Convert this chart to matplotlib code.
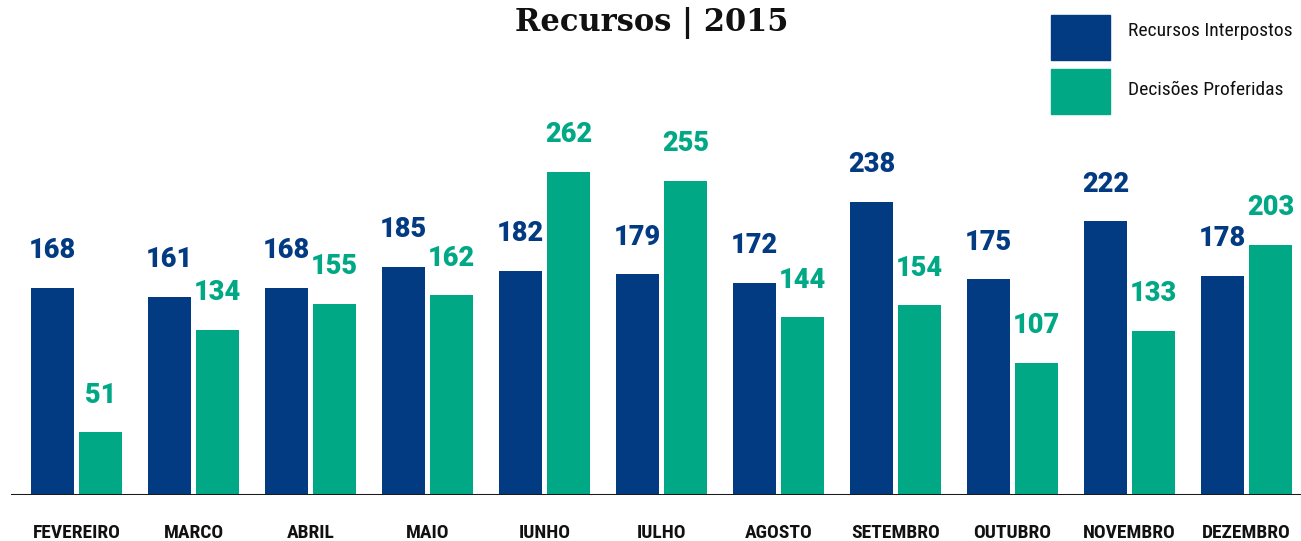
import numpy as np
import matplotlib
matplotlib.use('Agg')
import matplotlib.pyplot as plt
from matplotlib.patches import Rectangle
from matplotlib import font_manager

# monthly totals, 2015
meses = ["FEVEREIRO", "MARCO", "ABRIL", "MAIO", "IUNHO", "IULHO",
         "AGOSTO", "SETEMBRO", "OUTUBRO", "NOVEMBRO", "DEZEMBRO"]
interpostos = [168, 161, 168, 185, 182, 179, 172, 238, 175, 222, 178]
proferidas = [51, 134, 155, 162, 262, 255, 144, 154, 107, 133, 203]

azul = "#023b82"
verde = "#00a885"

names = {f.name for f in font_manager.fontManager.ttflist}
narrow = [n for n in ["Liberation Sans Narrow", "Roboto Condensed", "Open Sans Condensed",
                      "DejaVu Sans"] if n in names]

W, H = 1301, 541
fig = plt.figure(figsize=(W / 100, H / 100), dpi=100)

# axes spans from x=11px to the right edge, baseline 46px above the bottom
ax = fig.add_axes([11 / W, 46 / H, 1 - 11 / W, 1 - 46 / H])

x = np.arange(len(meses))
pitch = 117.0
bw = 43 / pitch
off = 24 / pitch

ax.bar(x - off, interpostos, width=bw, color=azul, zorder=2)
ax.bar(x + off, proferidas, width=bw, color=verde, zorder=2)

num_font = dict(family=["Roboto", "DejaVu Sans"], fontsize=19.5, fontweight="black")
for xi, v in zip(x, interpostos):
    ax.annotate(str(v), (xi - off, v), xytext=(0, 17), textcoords="offset points",
                ha="center", va="bottom", color=azul, **num_font)
for xi, v in zip(x, proferidas):
    ax.annotate(str(v), (xi + off, v), xytext=(0, 17), textcoords="offset points",
                ha="center", va="bottom", color=verde, **num_font)

ax.axhline(0, color="#1a1a1a", lw=2.2, zorder=3)

ax.set_xlim(-65.5 / pitch, (W - 76.5) / pitch)
ax.set_ylim(0, 495 / 323 * 262)
ax.set_xticks(x)
ax.set_xticklabels(meses, family=narrow, fontstretch="condensed",
                   fontsize=14, fontweight="bold", color="#111111")
ax.tick_params(axis="x", length=0, pad=21)
ax.set_yticks([])
for s in ax.spines.values():
    s.set_visible(False)

fig.text(652 / W, 1 - 23 / H, "Recursos | 2015", ha="center", va="center",
         family=["DejaVu Serif"], fontsize=22, fontweight="heavy", color="#111111")

# legend boxes
leg = [("Recursos Interpostos", azul, 15, 31), ("Decisões Proferidas", verde, 69, 90)]
for txt, cor, top, ty in leg:
    fig.patches.append(Rectangle((1051 / W, 1 - (top + 45) / H), 59 / W, 45 / H,
                                 transform=fig.transFigure, color=cor))
    fig.text(1128 / W, 1 - ty / H, txt, ha="left", va="center",
             family=narrow, fontstretch="condensed", fontsize=14,
             color="#111111")

fig.savefig("out.png", dpi=100)
